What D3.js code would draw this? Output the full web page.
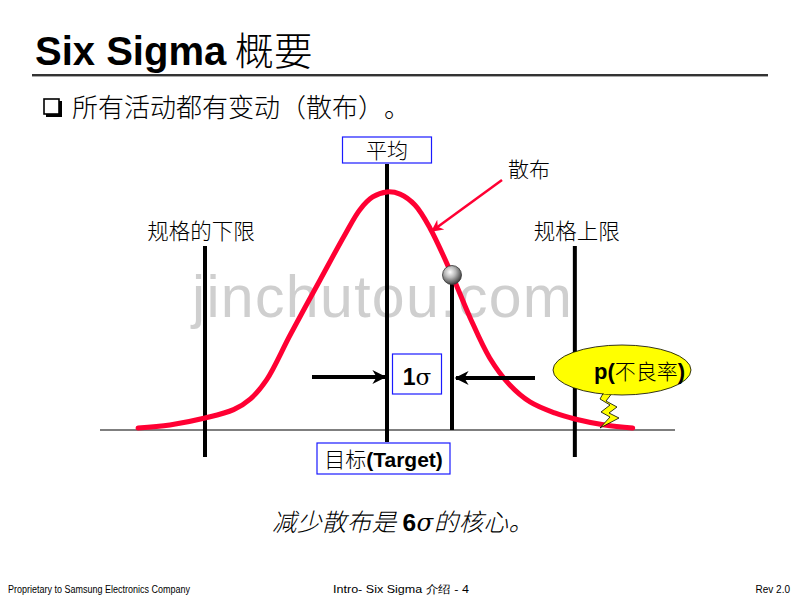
<!DOCTYPE html>
<html><head><meta charset="utf-8">
<script src="https://cdn.jsdelivr.net/npm/d3@7"></script>
<style>
html,body{margin:0;padding:0;background:#fff;}
svg{display:block;}
svg text{text-spacing-trim:space-all;}
</style></head>
<body>
<svg id="chart" width="800" height="600"></svg>
<script>
// ---- data (x in sigma units from the mean, y as relative density) ----
const curveX = [-3.83,-3.34,-2.80,-2.36,-2.10,-1.85,-1.49,-1.03,-0.65,-0.42,-0.22,0,0.20,0.43,0.66,1.00,1.28,1.58,1.89,2.20,2.58,2.89,3.35,3.78];
const curveY = [0.008,0.021,0.05,0.085,0.13,0.21,0.396,0.625,0.8125,0.917,0.971,0.992,0.983,0.9375,0.842,0.646,0.467,0.30,0.1875,0.117,0.071,0.046,0.021,0.008];
const markerNames = ["LSL","mean","oneSigma","USL"];
const markerX = [-2.80, 0, 1.0, 2.89];
const specLabels = ["规格的下限","规格上限"];
const titleText = ["Six Sigma","概要"];
const bulletText = "所有活动都有变动（散布）。";
const footerTexts = ["Proprietary to Samsung Electronics Company","Intro- Six Sigma 介绍 - 4","Rev 2.0"];

const svg = d3.select("#chart");
const CJK = "'Noto Sans CJK SC', sans-serif";
const LAT = "'Liberation Sans', Arial, sans-serif";

const x = d3.scaleLinear().domain([0,1]).range([387,452]);
const y = d3.scaleLinear().domain([0,1]).range([430,190]);

// defs
const defs = svg.append("defs");
const rg = defs.append("radialGradient").attr("id","ball").attr("cx","40%").attr("cy","35%").attr("r","65%");
rg.append("stop").attr("offset","0%").attr("stop-color","#ffffff");
rg.append("stop").attr("offset","45%").attr("stop-color","#b8b8b8");
rg.append("stop").attr("offset","100%").attr("stop-color","#404040");
function arrowMarker(id,color,w,h){
  defs.append("marker").attr("id",id).attr("viewBox","0 0 10 10").attr("refX",9).attr("refY",5)
    .attr("markerWidth",w).attr("markerHeight",h).attr("markerUnits","userSpaceOnUse").attr("orient","auto")
    .append("path").attr("d","M0,0 L10,5 L0,10 L3,5 Z").attr("fill",color);
}
arrowMarker("arrK","#000",16,14);
arrowMarker("arrR","#ff0033",14,12);

// title
const t = svg.append("text").attr("x",35).attr("y",65);
t.append("tspan").text(titleText[0]).attr("font-family",LAT).attr("font-weight","bold").attr("font-size",40);
t.append("tspan").text(" "+titleText[1]).attr("font-family",CJK).attr("font-weight",300).attr("font-size",39);
svg.append("line").attr("x1",32).attr("x2",768).attr("y1",75).attr("y2",75).attr("stroke","#333").attr("stroke-width",2);
svg.append("line").attr("x1",32).attr("x2",768).attr("y1",76.5).attr("y2",76.5).attr("stroke","#aaa").attr("stroke-width",1);

// bullet
svg.append("rect").attr("x",46).attr("y",101).attr("width",16).attr("height",16).attr("fill","#000");
svg.append("rect").attr("x",44).attr("y",99).attr("width",15).attr("height",15).attr("fill","#fff").attr("stroke","#000").attr("stroke-width",1.6);
svg.append("text").attr("x",72).attr("y",117).attr("font-family",CJK).attr("font-size",26).attr("font-weight",300).text(bulletText);

// watermark
svg.append("text").attr("x",192).attr("y",317).attr("font-family",LAT).attr("font-size",59)
  .attr("fill","#cfcfcf").attr("textLength",380).attr("lengthAdjust","spacing").text("jinchutou.com");

// baseline
svg.append("line").attr("x1",100).attr("x2",675).attr("y1",430).attr("y2",430).attr("stroke","#555").attr("stroke-width",1.5);

// vertical lines
const vTop = {LSL:246, mean:164, oneSigma:275, USL:246};
const vBot = {LSL:457, mean:442, oneSigma:430, USL:457};
markerNames.forEach((n,i)=>{
  svg.append("line").attr("x1",x(markerX[i])).attr("x2",x(markerX[i])).attr("y1",vTop[n]).attr("y2",vBot[n])
    .attr("stroke","#000").attr("stroke-width",4);
});

// curve
const pts = curveX.map((v,i)=>[x(v),y(curveY[i])]);
svg.append("path").attr("d",d3.line().curve(d3.curveCatmullRom)(pts)).attr("fill","none")
  .attr("stroke","#ff0033").attr("stroke-width",5).attr("stroke-linecap","round");

// ball
svg.append("circle").attr("cx",x(markerX[2])).attr("cy",275).attr("r",9.5).attr("fill","url(#ball)").attr("stroke","#333").attr("stroke-width",0.8);

// labels
function boxLabel(cx,cy,w,h){
  svg.append("rect").attr("x",cx-w/2).attr("y",cy-h/2).attr("width",w).attr("height",h)
    .attr("fill","#fff").attr("stroke","#1a1aff").attr("stroke-width",1.2);
}
boxLabel(x(markerX[1]),150,89,26);
svg.append("text").attr("x",x(markerX[1])).attr("y",158).attr("text-anchor","middle").attr("font-family",CJK).attr("font-weight",300).attr("font-size",21).text("平均");

svg.append("text").attr("x",508).attr("y",177).attr("font-family",CJK).attr("font-weight",300).attr("font-size",21).text("散布");
svg.append("line").attr("x1",502).attr("y1",180).attr("x2",432).attr("y2",231).attr("stroke","#ff0033").attr("stroke-width",2.5).attr("marker-end","url(#arrR)");

svg.append("text").attr("x",x(markerX[0])-4).attr("y",239).attr("text-anchor","middle").attr("font-family",CJK).attr("font-weight",300).attr("font-size",21.5).text(specLabels[0]);
svg.append("text").attr("x",x(markerX[3])+2).attr("y",239).attr("text-anchor","middle").attr("font-family",CJK).attr("font-weight",300).attr("font-size",21.5).text(specLabels[1]);

// 1 sigma
boxLabel(417,374,49,40);
const s1 = svg.append("text").attr("x",417).attr("y",385).attr("text-anchor","middle").attr("font-size",23);
s1.append("tspan").text("1").attr("font-family",LAT).attr("font-weight","bold");
s1.append("tspan").text("σ").attr("font-family","'DejaVu Serif', serif");
svg.append("line").attr("x1",312).attr("x2",385).attr("y1",377).attr("y2",377).attr("stroke","#000").attr("stroke-width",4).attr("marker-end","url(#arrK)");
svg.append("line").attr("x1",535).attr("x2",456).attr("y1",378).attr("y2",378).attr("stroke","#000").attr("stroke-width",4).attr("marker-end","url(#arrK)");

// bubble
svg.append("path").attr("d","M605,390 L613,392 L606,401 L617,407 L609,413 L619,418 L600,428 L610,417 L601,412 L610,405 L600,399 Z")
  .attr("fill","#ffff00").attr("stroke","#000").attr("stroke-width",0.8);
svg.append("ellipse").attr("cx",622).attr("cy",370).attr("rx",69).attr("ry",25).attr("fill","#ffff00").attr("stroke","#000").attr("stroke-width",0.8);
svg.append("path").attr("d","M604,393 L614,393").attr("stroke","#ffff00").attr("stroke-width",2.5);
const p = svg.append("text").attr("x",594).attr("y",379).attr("font-size",22);
p.append("tspan").text("p(").attr("font-family",LAT).attr("font-weight","bold");
p.append("tspan").text("不良率").attr("font-family",CJK).attr("font-weight",300).attr("font-size",21);
p.append("tspan").text(")").attr("font-family",LAT).attr("font-weight","bold");

// target box
boxLabel(383.5,458.5,133,31);
const tg = svg.append("text").attr("x",383.5).attr("y",467).attr("text-anchor","middle").attr("font-size",21);
tg.append("tspan").text("目标").attr("font-family",CJK).attr("font-weight",300);
tg.append("tspan").text("(Target)").attr("font-family",LAT).attr("font-weight","bold");

// conclusion
const c = svg.append("text").attr("x",272).attr("y",531).attr("font-size",24.5).attr("font-style","italic")
  .attr("textLength",261).attr("lengthAdjust","spacing");
c.append("tspan").text("减少散布是 ").attr("font-family",CJK).attr("font-weight",300);
c.append("tspan").text("6").attr("font-family",LAT).attr("font-weight","bold").attr("font-style","normal");
c.append("tspan").text("σ").attr("font-family","'DejaVu Serif', serif");
c.append("tspan").text("的核心。").attr("font-family",CJK).attr("font-weight",300);

// footer
svg.append("text").attr("x",8).attr("y",593).attr("font-family",LAT).attr("font-size",10).attr("textLength",182).attr("lengthAdjust","spacingAndGlyphs").text(footerTexts[0]);
svg.append("text").attr("x",333).attr("y",593).attr("font-family",LAT).attr("font-size",11).attr("textLength",136).attr("lengthAdjust","spacingAndGlyphs").text(footerTexts[1]);
svg.append("text").attr("x",790).attr("y",593).attr("text-anchor","end").attr("font-family",LAT).attr("font-size",10).text(footerTexts[2]);
</script>
</body></html>
